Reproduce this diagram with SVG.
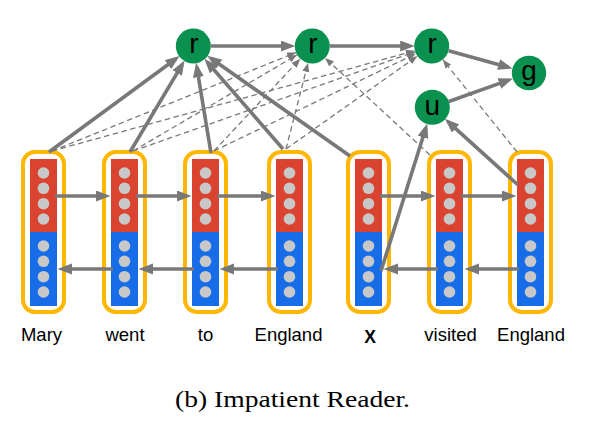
<svg xmlns="http://www.w3.org/2000/svg" width="610" height="422" viewBox="0 0 610 422">
<style>
.box{fill:none;stroke:#FFB703;stroke-width:4}
.red{fill:#DB4331}
.blue{fill:#176CE8}
.dot{fill:#C8C8C8}
.lbl{font-family:"Liberation Sans",Arial,sans-serif;font-size:18.5px;fill:#000;text-anchor:middle}
.node{fill:#0A914F}
.nt{font-family:"Liberation Sans",Arial,sans-serif;font-size:28px;fill:#000;text-anchor:middle}
.s{stroke:#787878;stroke-width:3.6;fill:none;marker-end:url(#ah)}
.d{stroke:#787878;stroke-width:1.3;fill:none;stroke-dasharray:5.5,3.5;marker-end:url(#ahd)}
.cap{font-family:"Liberation Serif","Times New Roman",serif;font-size:24px;fill:#000;text-anchor:middle}
</style>
<defs>
<marker id="ah" markerUnits="userSpaceOnUse" markerWidth="16" markerHeight="12" refX="10" refY="5.5" orient="auto"><path d="M0,0 L14.5,5.5 L0,11 z" fill="#787878"/></marker>
<marker id="ahd" markerUnits="userSpaceOnUse" markerWidth="10" markerHeight="8" refX="9" refY="3.5" orient="auto"><path d="M0,0 L9,3.5 L0,7 z" fill="#787878"/></marker>
<g id="cell">
<rect class="box" x="-20.5" y="152" width="41" height="160" rx="12"/>
<rect class="red" x="-13.5" y="159" width="27" height="73"/>
<rect class="blue" x="-13.5" y="232" width="27" height="74"/>
<circle class="dot" cx="0" cy="173" r="5.8"/>
<circle class="dot" cx="0" cy="188.3" r="5.8"/>
<circle class="dot" cx="0" cy="203.7" r="5.8"/>
<circle class="dot" cx="0" cy="219" r="5.8"/>
<circle class="dot" cx="0" cy="246" r="5.8"/>
<circle class="dot" cx="0" cy="261.3" r="5.8"/>
<circle class="dot" cx="0" cy="276.7" r="5.8"/>
<circle class="dot" cx="0" cy="292" r="5.8"/>
</g>
</defs>
<rect width="610" height="422" fill="#fff"/>

<g id="col-mary"><use href="#cell" x="43.5"/><text class="lbl" x="41.5" y="341">Mary</text></g>
<g id="col-went"><use href="#cell" x="124.5"/><text class="lbl" x="125" y="341">went</text></g>
<g id="col-to"><use href="#cell" x="205.5"/><text class="lbl" x="205.5" y="341">to</text></g>
<g id="col-england1"><use href="#cell" x="289.5"/><text class="lbl" x="288.5" y="341">England</text></g>
<g id="col-x"><use href="#cell" x="368.5"/><text class="lbl" x="370" y="342.5" style="font-weight:bold;font-size:17.5px">X</text></g>
<g id="col-visited"><use href="#cell" x="449.5"/><text class="lbl" x="450.5" y="341">visited</text></g>
<g id="col-england2"><use href="#cell" x="530.5"/><text class="lbl" x="531" y="341">England</text></g>

<g id="connectors">
<!-- forward -->
<line class="s" x1="55" y1="196" x2="106" y2="196"/>
<line class="s" x1="136" y1="196" x2="187" y2="196"/>
<line class="s" x1="217" y1="196" x2="271" y2="196"/>
<line class="s" x1="380" y1="196" x2="431" y2="196"/>
<line class="s" x1="461" y1="196" x2="512" y2="196"/>
<!-- backward -->
<line class="s" x1="113" y1="269" x2="62" y2="269"/>
<line class="s" x1="194" y1="269" x2="143" y2="269"/>
<line class="s" x1="278" y1="269" x2="224" y2="269"/>
<line class="s" x1="438" y1="269" x2="388" y2="269"/>
<line class="s" x1="519" y1="269" x2="469" y2="269"/>
<!-- dashed to r2 -->
<line class="d" x1="52" y1="151" x2="296.1" y2="52.5"/>
<line class="d" x1="133" y1="151" x2="297.2" y2="54.8"/>
<line class="d" x1="214" y1="151" x2="300.3" y2="58.8"/>
<line class="d" x1="286" y1="149" x2="308" y2="63"/>
<line class="d" x1="430" y1="155" x2="325.1" y2="57.9"/>
<!-- dashed to r3 -->
<line class="d" x1="52" y1="151" x2="414.9" y2="50.7"/>
<line class="d" x1="133" y1="151" x2="415.2" y2="51.8"/>
<line class="d" x1="214" y1="151" x2="415.9" y2="53.6"/>
<line class="d" x1="286" y1="149" x2="417.4" y2="56.1"/>
<line class="d" x1="517" y1="152" x2="442.7" y2="59.6"/>
<!-- solid to r1 -->
<line class="s" x1="49" y1="152" x2="176" y2="58.7"/>
<line class="s" x1="130" y1="152" x2="182.3" y2="64.4"/>
<line class="s" x1="211" y1="153" x2="196.8" y2="67.2"/>
<line class="s" x1="283" y1="149" x2="207.4" y2="62.2"/>
<line class="s" x1="350" y1="156" x2="210.9" y2="58.3"/>
<!-- r chain -->
<line class="s" x1="211" y1="46" x2="290.8" y2="46"/>
<line class="s" x1="330" y1="46" x2="410.2" y2="46"/>
<line class="s" x1="448.6" y1="50.7" x2="508.2" y2="67.2"/>
<line class="s" x1="448.8" y1="101.5" x2="508.7" y2="80.1"/>
<!-- to u -->
<line class="s" x1="381" y1="271" x2="425.9" y2="127.8"/>
<line class="s" x1="518" y1="185" x2="448.2" y2="121.8"/>
</g>

<g id="r1"><circle class="node" cx="193.3" cy="46" r="17.5"/><text class="nt" x="193.8" y="53.3">r</text></g>
<g id="r2"><circle class="node" cx="312.3" cy="46" r="17.5"/><text class="nt" x="312.8" y="53.3">r</text></g>
<g id="r3"><circle class="node" cx="431.7" cy="46" r="17.5"/><text class="nt" x="432.2" y="53.3">r</text></g>
<g id="u"><circle class="node" cx="432.3" cy="107.3" r="17.5"/><text class="nt" x="432.3" y="114.6">u</text></g>
<g id="g"><circle class="node" cx="529" cy="73" r="17.2"/><text class="nt" x="529" y="79.5">g</text></g>

<text class="cap" x="292.5" y="407" textLength="235" lengthAdjust="spacingAndGlyphs">(b) Impatient Reader.</text>
</svg>
